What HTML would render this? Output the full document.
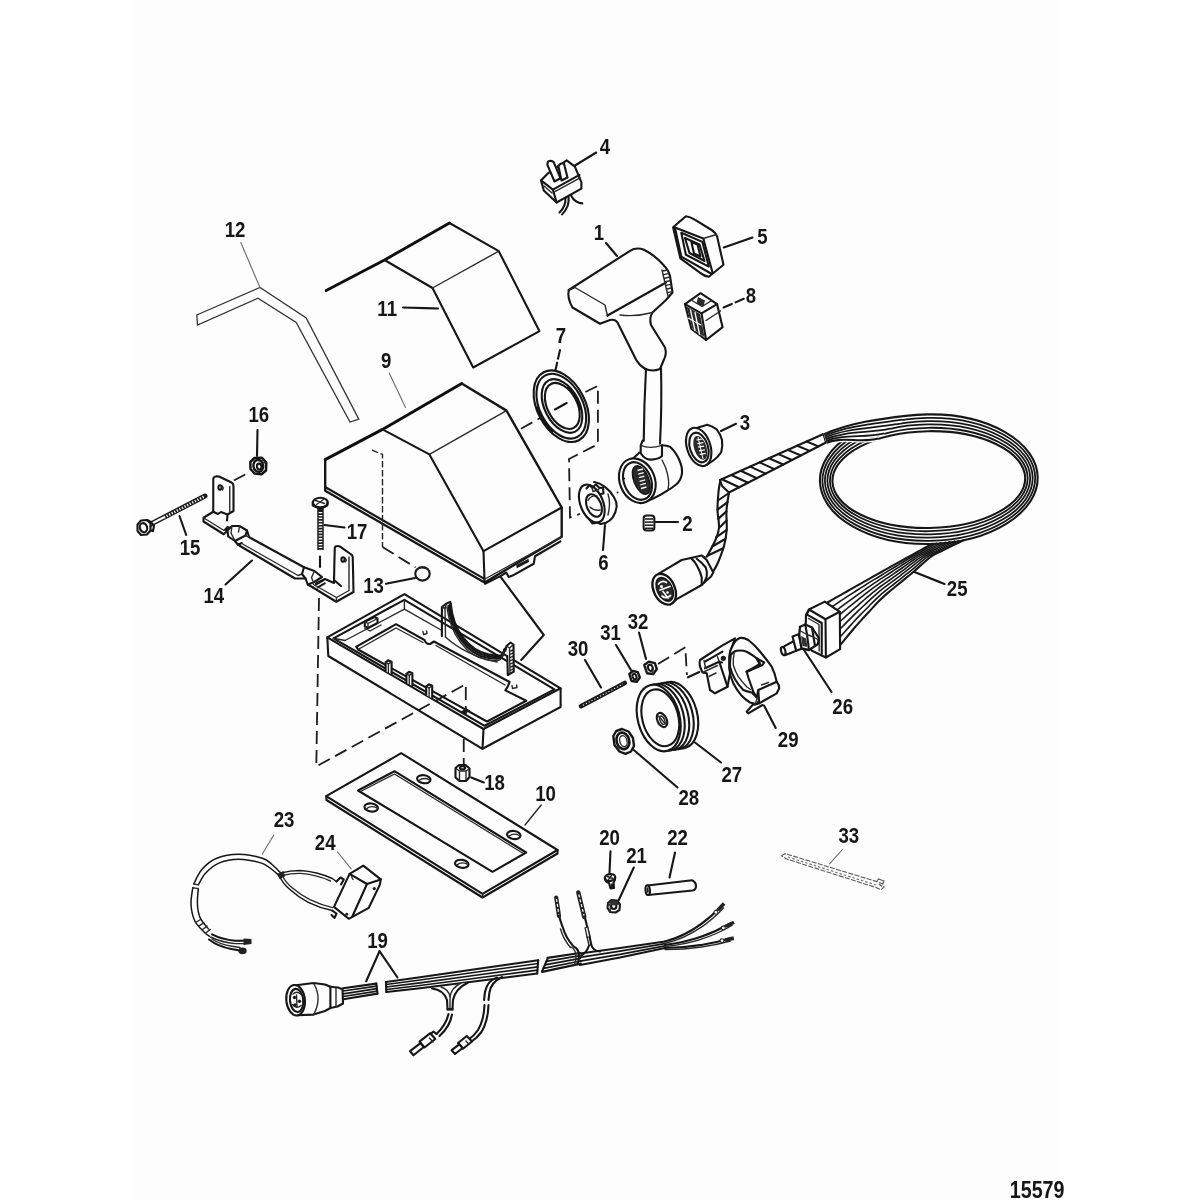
<!DOCTYPE html>
<html><head><meta charset="utf-8"><title>15579</title>
<style>
html,body{margin:0;padding:0;background:#fff;}
body{width:1200px;height:1200px;overflow:hidden;font-family:"Liberation Sans",sans-serif;}
svg{display:block}
.k{fill:none;stroke:#161616;stroke-width:2.1;stroke-linejoin:round;stroke-linecap:round}
.K{fill:none;stroke:#111;stroke-width:2.9;stroke-linejoin:round;stroke-linecap:round}
.w{fill:#fdfdfd;stroke:#161616;stroke-width:2.1;stroke-linejoin:round;stroke-linecap:round}
.t{fill:none;stroke:#2a2a2a;stroke-width:1.4;stroke-linejoin:round;stroke-linecap:round}
.tw{fill:#fdfdfd;stroke:#2a2a2a;stroke-width:1.4;stroke-linejoin:round;stroke-linecap:round}
.g{fill:none;stroke:#6a6a6a;stroke-width:1.1;stroke-linecap:round}
.d{fill:none;stroke:#1c1c1c;stroke-width:1.8;stroke-dasharray:13 6}
.d3{fill:none;stroke:#222;stroke-width:1.4;stroke-dasharray:6.5 2.5}
.f{fill:#1a1a1a;stroke:none}
.s12{fill:none;stroke:#333;stroke-width:1.3;stroke-linejoin:miter}
.lb{font-family:"Liberation Sans",sans-serif;font-weight:bold;fill:#141414}
</style></head>
<body>
<svg width="1200" height="1200" viewBox="0 0 1200 1200">
<rect x="0" y="0" width="1200" height="1200" fill="#ffffff"/>
<rect x="135" y="0" width="926" height="1200" fill="#fdfdfd"/>
<defs><filter id="sf" x="0" y="0" width="1200" height="1200" filterUnits="userSpaceOnUse"><feGaussianBlur stdDeviation="0.38"/></filter></defs>
<g filter="url(#sf)">
<!-- 10_top.py -->
<path class="s12" d="M196.8,315.0 L260.0,287.5 L306.2,318.0 L358.8,419.2 L350.0,422.0 L296.2,322.5 L258.0,298.2 L197.5,325.0 Z" />
<path class="K" d="M326.2,290.5 L384.5,260.0 L449.5,223.0" />
<path class="k" d="M449.5,223.0 L498.8,251.2 L539.5,331.2 L473.2,367.5 L432.5,288.0 L384.5,260.0" />
<line class="t" x1="432.5" y1="288.0" x2="498.8" y2="251.2"/>
<path class="K" d="M325.2,459.6 L382.5,429.4 L461.7,383.5" />
<path class="k" style="stroke-width:2.4" d="M461.7,383.5 L506.5,410.6 L561.7,507.5 L561.7,536.7 L484.6,582.5 L325.2,490.8 L325.2,459.6" />
<path class="k" d="M382.5,429.4 L429.4,454.4 L483.5,551.2 L484.6,582.5" />
<line class="t" x1="429.4" y1="454.4" x2="506.5" y2="410.6"/>
<line class="k" x1="483.5" y1="551.2" x2="561.7" y2="507.5"/>
<line class="k" x1="326.0" y1="487.5" x2="484.0" y2="578.6"/>
<path class="k" d="M500.6,576.9 L543.8,635.0 L521.2,660.0" />
<path class="d3" d="M372,450.2 L382.5,454.4 L382.5,547" />
<path class="d" d="M382.5,547 L415.5,567.5" />
<!-- 20_handle.py -->
<ellipse class="k" cx="561.3" cy="406.2" rx="24.0" ry="38.3" transform="rotate(-27.4 561.3 406.2)" />
<ellipse class="k" cx="561.3" cy="406.2" rx="21.5" ry="34.7" transform="rotate(-27.4 561.3 406.2)" />
<ellipse class="k" cx="562.0" cy="406.0" rx="17.3" ry="28.8" transform="rotate(-27.4 562.0 406.0)" />
<ellipse class="k" cx="562.3" cy="405.9" rx="14.9" ry="24.7" transform="rotate(-27.4 562.3 405.9)" />
<path class="k" style="stroke-width:2.8" d="M552.2,431.4 C551.6,430.8 549.7,428.9 548.5,427.6 C547.3,426.2 546.2,424.7 545.1,423.2 C544.0,421.6 543.0,420.0 542.1,418.3 C541.1,416.7 540.3,414.9 539.5,413.2 C538.7,411.5 537.8,408.8 537.5,407.9" />
<path class="k" style="stroke-width:2.4" d="M568.3,387.7 C568.8,388.2 570.2,389.6 571.0,390.6 C571.9,391.6 572.7,392.7 573.5,393.8 C574.3,395.0 575.1,396.1 575.7,397.4 C576.4,398.6 577.0,399.8 577.6,401.1 C578.2,402.4 578.7,403.7 579.1,405.0 C579.5,406.3 580.0,408.2 580.2,408.9" />
<line class="d" x1="521.0" y1="428.8" x2="541.0" y2="417.5"/>
<line class="k" x1="555.0" y1="409.5" x2="566.7" y2="403.0"/>
<path class="d" d="M585.4,392 L597.9,385.8 L597.9,444.2 L569,459 L570,517.5 L580,513.75" />
<path class="k" d="M568.75,290 L630,250.8 Q636.5,246.8 644,249.8 Q655,255.5 663,264.5 Q668.5,270 670,276 L672.5,292.5 L666,300 L652.5,312.5 Q649,318 651,325 L665,347.5 Q667,354 663.75,360 L660,369" />
<path class="k" d="M568.75,290 Q567,298 572.5,307.5 L600,323.75 L610,320 Q615,319 617.5,322.5 L636.25,360 Q640,366 645,368.75" />
<path class="k" d="M645,368.75 Q652,372 660,369" />
<path class="t" d="M575,287.5 L605,305 L607.5,316.25" />
<path class="t" d="M569,290 L575,287.5" />
<line class="k" x1="607.5" y1="315.5" x2="666.0" y2="282.5"/>
<path class="t" d="M620,315 Q636,317 652.5,312.5" />
<path class="t" d="M662,270 L668,296" />
<line class="t" x1="663.0" y1="271.0" x2="667.5" y2="270.0"/>
<line class="t" x1="663.8" y1="274.6" x2="668.2" y2="273.6"/>
<line class="t" x1="664.5" y1="278.2" x2="669.0" y2="277.2"/>
<line class="t" x1="665.2" y1="281.8" x2="669.8" y2="280.8"/>
<line class="t" x1="666.0" y1="285.4" x2="670.5" y2="284.4"/>
<line class="t" x1="666.8" y1="289.0" x2="671.2" y2="288.0"/>
<line class="t" x1="667.5" y1="292.6" x2="672.0" y2="291.6"/>
<path class="k" d="M646,369 Q644,405 643.75,441" />
<path class="k" d="M661,368.5 Q662,405 660,443.75" />
<path class="k" d="M640.7,445.3 L642.7,440.5 M640.7,445.3 L640.7,453.3 Q645,460 651.3,459.6 Q658,459.5 662,456 L662,445.3" />
<path class="t" d="M640.7,445.3 Q650,449.5 662,445.3" />
<path class="k" d="M632.7,458.7 L639.5,452.5" />
<path class="k" d="M662,445.3 Q667,445.5 670,446.7 Q676,452 679.3,460 Q682.5,467 682,473.3 Q681,480 676.7,484 Q672,488 667.3,490.7 Q661,495 652.7,498.7 L642.7,502.7" />
<path class="t" d="M662,460 Q666,467 667.3,473.3 Q669,480 668.7,484 L668,490" />
<ellipse class="w" cx="637.3" cy="480.7" rx="17.5" ry="23.0" transform="rotate(-22 637.3 480.7)" />
<ellipse class="k" cx="637.5" cy="481.0" rx="13.5" ry="19.5" transform="rotate(-22 637.5 481.0)" />
<ellipse cx="641.3" cy="480" rx="7.5" ry="15" transform="rotate(-22 641.3 480)" fill="#2a2a2a" stroke="#161616" stroke-width="1.5"/>
<line x1="637.5" y1="470.5" x2="643.0" y2="469.0" stroke="#fdfdfd" stroke-width="1.3"/>
<line x1="638.2" y1="474.1" x2="643.7" y2="472.6" stroke="#fdfdfd" stroke-width="1.3"/>
<line x1="638.9" y1="477.7" x2="644.4" y2="476.2" stroke="#fdfdfd" stroke-width="1.3"/>
<line x1="639.6" y1="481.3" x2="645.1" y2="479.8" stroke="#fdfdfd" stroke-width="1.3"/>
<line x1="640.3" y1="484.9" x2="645.8" y2="483.4" stroke="#fdfdfd" stroke-width="1.3"/>
<line x1="641.0" y1="488.5" x2="646.5" y2="487.0" stroke="#fdfdfd" stroke-width="1.3"/>
<circle class="f" cx="624" cy="478.5" r="1.1"/>
<path class="k" d="M696.7,428 L707.3,424.7 Q712.5,426 716.7,429.3 Q720.5,434 722,440 Q722.8,446 721.3,452 Q718.5,456.5 714,460 Q709,464 703.3,466" />
<ellipse class="w" cx="698.7" cy="446.9" rx="11.7" ry="19.8" transform="rotate(-18 698.7 446.9)" />
<ellipse class="k" cx="699.0" cy="447.5" rx="9.0" ry="15.3" transform="rotate(-18 699.0 447.5)" />
<ellipse cx="700.3" cy="447.8" rx="6.2" ry="12.3" transform="rotate(-18 700.3 447.8)" fill="#2c2c2c" stroke="none"/>
<line x1="696.5" y1="440.0" x2="702.5" y2="439.0" stroke="#fdfdfd" stroke-width="1.2"/>
<line x1="697.3" y1="443.6" x2="703.3" y2="442.6" stroke="#fdfdfd" stroke-width="1.2"/>
<line x1="698.1" y1="447.2" x2="704.1" y2="446.2" stroke="#fdfdfd" stroke-width="1.2"/>
<line x1="698.9" y1="450.8" x2="704.9" y2="449.8" stroke="#fdfdfd" stroke-width="1.2"/>
<line x1="699.7" y1="454.4" x2="705.7" y2="453.4" stroke="#fdfdfd" stroke-width="1.2"/>
<line x1="698" y1="437" x2="703" y2="459" stroke="#fdfdfd" stroke-width="1"/>
<rect x="643.6" y="515.6" width="10.8" height="15" rx="3" fill="#fdfdfd" stroke="#161616" stroke-width="2"/>
<line x1="645" y1="519.0" x2="653.5" y2="519.0" stroke="#222" stroke-width="1.6"/>
<line x1="645" y1="522.1" x2="653.5" y2="522.1" stroke="#222" stroke-width="1.6"/>
<line x1="645" y1="525.2" x2="653.5" y2="525.2" stroke="#222" stroke-width="1.6"/>
<line x1="645" y1="528.3" x2="653.5" y2="528.3" stroke="#222" stroke-width="1.6"/>
<path class="k" d="M594,482 Q600,483 604.7,486.7 Q610.5,491 614,497.3 Q617,502 616.7,506.7 Q616,512.5 612.7,517.3 Q610,521 606,522.7 L600.7,524" />
<ellipse class="w" cx="591.8" cy="503.5" rx="11.3" ry="20.0" transform="rotate(-22 591.8 503.5)" />
<ellipse class="k" cx="594.0" cy="505.5" rx="7.2" ry="11.8" transform="rotate(-22 594.0 505.5)" />
<path class="t" d="M588,500.5 Q591,495 597,496" />
<path class="t" d="M590,507 Q594,511 600,510" />
<path class="k" d="M586.5,488.5 L589.5,485 L592,487.5 L596,484.5 L599.5,488 L603,487.5 L603.5,493.5 L600.5,494" />
<path class="t" d="M592,487.5 L593,491.5 L598,490 L599.5,488" />
<path class="k" d="M589,519 L592.5,523.5 L597.5,522.5 L600.7,524" />
<path class="t" d="M608,494 Q611,503 608,515" />
<circle class="f" cx="617.5" cy="492.5" r="1"/>
<!-- 21_small.py -->
<path class="w" d="M541.0,180.4 L548.3,173.1 L566.7,160.3 L574.9,166.7 L581.4,182.3 L581.4,188.7 L556.6,202.5 L543.8,190.5 Z" />
<path class="k" d="M541,180.4 L552.9,189.6 L579.5,174.9" />
<path class="k" d="M552.9,189.6 L556.6,202.5" />
<path class="t" d="M553.5,192.3 L580.5,177.6" />
<path class="t" d="M544,186 L552,193" />
<path class="w" d="M547.4,164.8 Q547.3,161.5 549.3,161 Q552.5,160.5 553.8,162.3 L560.5,178.3 L554.5,181.5 Z" />
<path class="w" d="M558.4,166 Q560,163 563.9,163.2 L567.5,177.5 L561.5,180.5 Z" />
<path class="k" d="M568.5,197 Q570,206 562.1,214.4" />
<path class="k" d="M565.5,198 Q566,206 559.5,212.5" />
<path class="k" d="M571,195.5 Q575,203 582.3,203.4" />
<path class="w" d="M673.1,227.2 L685.9,216.2 Q690,216.5 695.1,219.9 L711.6,230 Q715.5,232.5 717.1,236.4 L723.5,264.8 L708.8,276.7 Q704,276 700.6,273.1 L680.4,258.4 Z" />
<path class="k" d="M674.9,227.5 L703.3,238.5 L712.5,272.5" />
<path class="t" d="M703.3,238.5 L716.5,234.5" />
<path class="k" d="M674.9,227.5 L681.3,256.6 L711,273.5" />
<path class="k" d="M681.3,232.7 L702.4,241.9 L708.8,266.6 L685.9,254.7 Z" />
<path class="k" d="M685.0,238.0 L699.5,244.5 L704.5,261.0 L689.5,253.0 Z" />
<path class="k" d="M691.4,242.0 L697.5,244.5 L700.5,256.5 L694.0,253.5 Z" />
<path class="w" d="M685.0,304.2 L700.6,293.2 L717.1,304.2 L722.6,327.2 L706.1,340.0 L691.4,329.0 Z" />
<path class="k" d="M685,304.2 L701.5,313.4 L717.1,304.2" />
<path class="k" d="M701.5,313.4 L706.1,340" />
<path d="M686.5,306.5 L700,314 L704.5,337 L692.3,328.2 Z" fill="#2a2a2a"/>
<path class="k" style="stroke:#fdfdfd;stroke-width:1.3" d="M690.5,310 L695,330.5" />
<path class="k" style="stroke:#fdfdfd;stroke-width:1.3" d="M695,312.5 L699.5,334" />
<path class="k" style="stroke:#fdfdfd;stroke-width:1.1" d="M688,318 L701,325" />
<path class="t" d="M692,300.5 L702,306.5 L711,301" />
<path d="M696.5,303.5 L698,297 L705,300.5 L703.5,306.5 Z" fill="#2a2a2a"/>
<path class="t" d="M706,320.5 L720.5,311" />
<!-- 30_harness25.py -->
<path class="k" d="M720.0,480.0 L823.5,434.0" />
<path class="k" d="M729.0,492.5 L826.0,442.5" />
<line class="k" x1="721.9" y1="479.2" x2="739.1" y2="487.3"/>
<line class="k" x1="731.3" y1="475.0" x2="748.0" y2="482.7"/>
<line class="k" x1="740.7" y1="470.8" x2="756.8" y2="478.2"/>
<line class="k" x1="750.1" y1="466.6" x2="765.6" y2="473.6"/>
<line class="k" x1="759.5" y1="462.4" x2="774.4" y2="469.1"/>
<line class="k" x1="768.9" y1="458.3" x2="783.2" y2="464.5"/>
<line class="k" x1="778.3" y1="454.1" x2="792.0" y2="460.0"/>
<line class="k" x1="787.7" y1="449.9" x2="800.9" y2="455.5"/>
<line class="k" x1="797.2" y1="445.7" x2="809.7" y2="450.9"/>
<line class="k" x1="806.6" y1="441.5" x2="818.5" y2="446.4"/>
<line class="k" x1="823.5" y1="434.0" x2="826.0" y2="442.5"/>
<path class="k" d="M720.0,482.0 C719.8,483.7 718.9,487.3 718.5,492.0 C718.1,496.7 717.4,504.0 717.5,510.0 C717.6,516.0 719.4,522.8 719.0,528.0 C718.6,533.2 717.0,536.2 715.0,541.0 C713.0,545.8 708.3,553.9 707.0,556.5" />
<path class="k" d="M729.0,492.5 C728.6,495.4 726.9,503.8 726.5,510.0 C726.1,516.2 727.1,524.0 726.7,530.0 C726.3,536.0 725.5,540.6 724.0,546.0 C722.5,551.4 719.8,558.2 718.0,562.5 C716.2,566.8 714.1,570.0 713.3,571.5" />
<line class="k" x1="718.0" y1="500.5" x2="728.9" y2="493.0"/>
<line class="k" x1="717.5" y1="509.7" x2="727.6" y2="502.2"/>
<line class="k" x1="718.2" y1="518.9" x2="726.5" y2="511.4"/>
<line class="k" x1="719.0" y1="528.1" x2="726.6" y2="520.6"/>
<line class="k" x1="716.1" y1="537.3" x2="726.7" y2="529.8"/>
<line class="k" x1="712.2" y1="546.5" x2="725.2" y2="539.0"/>
<line class="k" x1="707.4" y1="555.7" x2="723.2" y2="548.2"/>
<path class="k" d="M720,480 L722,486 L729,492.5" />
<ellipse cx="928.8" cy="479.2" rx="108.9" ry="64.8" transform="rotate(-1 928.8 479.2)" fill="none" stroke="#181818" stroke-width="2.1"/>
<ellipse cx="928.8" cy="479.3" rx="106.4" ry="61.5" transform="rotate(-1 928.8 479.2)" fill="none" stroke="#181818" stroke-width="1.8"/>
<ellipse cx="928.8" cy="479.4" rx="103.9" ry="58.2" transform="rotate(-1 928.8 479.2)" fill="none" stroke="#181818" stroke-width="1.8"/>
<ellipse cx="928.8" cy="479.4" rx="101.4" ry="55.0" transform="rotate(-1 928.8 479.2)" fill="none" stroke="#181818" stroke-width="1.8"/>
<ellipse cx="928.8" cy="479.5" rx="98.9" ry="51.7" transform="rotate(-1 928.8 479.2)" fill="none" stroke="#181818" stroke-width="1.8"/>
<ellipse cx="928.8" cy="479.6" rx="96.4" ry="48.4" transform="rotate(-1 928.8 479.2)" fill="none" stroke="#181818" stroke-width="2.1"/>
<path d="M824.0,434.2 C850.2,422.6 879.5,418.9 908.0,415.6" fill="none" stroke="#fdfdfd" stroke-width="4.5"/>
<path d="M824.5,435.9 C848.6,425.3 875.9,423.7 902.0,419.7" fill="none" stroke="#fdfdfd" stroke-width="4.5"/>
<path d="M825.0,437.6 C847.0,427.9 872.3,428.5 896.0,424.1" fill="none" stroke="#fdfdfd" stroke-width="4.5"/>
<path d="M825.4,439.4 C845.4,430.6 868.7,433.4 890.0,428.7" fill="none" stroke="#fdfdfd" stroke-width="4.5"/>
<path d="M825.9,441.1 C843.8,433.2 865.1,438.5 884.0,433.4" fill="none" stroke="#fdfdfd" stroke-width="4.5"/>
<path d="M826.4,442.8 C842.2,435.8 861.5,443.6 878.0,438.5" fill="none" stroke="#fdfdfd" stroke-width="4.5"/>
<path d="M824.0,434.2 C850.2,422.6 879.5,418.9 908.0,415.6" fill="none" stroke="#181818" stroke-width="2.1"/>
<path d="M824.5,435.9 C848.6,425.3 875.9,423.7 902.0,419.7" fill="none" stroke="#181818" stroke-width="1.7"/>
<path d="M825.0,437.6 C847.0,427.9 872.3,428.5 896.0,424.1" fill="none" stroke="#181818" stroke-width="1.7"/>
<path d="M825.4,439.4 C845.4,430.6 868.7,433.4 890.0,428.7" fill="none" stroke="#181818" stroke-width="1.7"/>
<path d="M825.9,441.1 C843.8,433.2 865.1,438.5 884.0,433.4" fill="none" stroke="#181818" stroke-width="1.7"/>
<path d="M826.4,442.8 C842.2,435.8 861.5,443.6 878.0,438.5" fill="none" stroke="#181818" stroke-width="2.1"/>
<path class="k" d="M932.2,543.8 C930.9,544.5 927.1,546.6 924.6,548.0 C922.0,549.4 919.5,550.8 916.9,552.2 C914.4,553.6 911.8,555.0 909.3,556.4 C906.8,557.8 904.2,559.2 901.7,560.6 C899.1,562.0 896.6,563.4 894.1,564.8 C891.5,566.3 889.0,567.7 886.5,569.1 C883.9,570.5 881.4,572.0 878.9,573.4 C876.3,574.8 873.8,576.2 871.3,577.7 C868.8,579.1 866.2,580.5 863.7,581.9 C861.2,583.3 858.6,584.8 856.1,586.2 C853.6,587.6 851.1,589.1 848.5,590.5 C846.0,591.9 843.5,593.4 841.0,594.8 C838.4,596.2 835.9,597.7 833.4,599.1 C830.9,600.5 827.1,602.7 825.8,603.4" />
<path class="k" style="stroke-width:1.6" d="M936.6,543.3 C935.3,544.0 931.3,546.2 928.6,547.6 C925.9,549.1 923.3,550.5 920.6,552.0 C917.9,553.4 915.2,554.8 912.5,556.3 C909.9,557.8 907.3,559.4 904.7,561.0 C902.1,562.5 899.6,564.1 897.0,565.7 C894.4,567.3 891.8,568.9 889.2,570.4 C886.6,572.0 884.0,573.6 881.4,575.2 C878.8,576.7 876.2,578.3 873.6,579.9 C871.0,581.4 868.4,583.0 865.9,584.7 C863.3,586.3 860.8,587.9 858.2,589.5 C855.7,591.2 853.1,592.8 850.6,594.4 C848.1,596.1 845.5,597.7 843.0,599.4 C840.5,601.0 838.0,602.7 835.5,604.3 C832.9,606.0 829.2,608.5 827.9,609.3" />
<path class="k" style="stroke-width:1.6" d="M941.1,542.8 C939.7,543.5 935.5,545.8 932.7,547.3 C929.8,548.8 927.0,550.2 924.2,551.7 C921.4,553.2 918.5,554.6 915.8,556.2 C913.1,557.8 910.4,559.6 907.8,561.3 C905.1,563.1 902.5,564.9 899.9,566.6 C897.2,568.3 894.6,570.1 891.9,571.8 C889.3,573.5 886.6,575.2 883.9,576.9 C881.2,578.6 878.6,580.3 875.9,582.1 C873.3,583.8 870.6,585.6 868.1,587.4 C865.5,589.2 862.9,591.0 860.4,592.9 C857.8,594.7 855.2,596.5 852.7,598.4 C850.1,600.2 847.6,602.1 845.1,603.9 C842.6,605.8 840.1,607.7 837.5,609.6 C835.0,611.4 831.3,614.3 830.0,615.2" />
<path class="k" style="stroke-width:1.6" d="M945.5,542.3 C944.1,543.0 939.6,545.3 936.7,546.9 C933.8,548.4 930.8,550.0 927.9,551.5 C924.9,553.1 921.9,554.4 919.1,556.1 C916.2,557.8 913.6,559.8 910.9,561.7 C908.1,563.6 905.5,565.6 902.8,567.5 C900.1,569.4 897.4,571.2 894.6,573.1 C891.9,575.0 889.2,576.8 886.4,578.7 C883.7,580.6 880.9,582.4 878.2,584.3 C875.5,586.2 872.9,588.1 870.2,590.1 C867.6,592.1 865.1,594.2 862.5,596.2 C859.9,598.2 857.3,600.3 854.8,602.3 C852.2,604.4 849.7,606.4 847.1,608.5 C844.6,610.6 842.1,612.7 839.6,614.8 C837.1,616.9 833.4,620.1 832.1,621.1" />
<path class="k" style="stroke-width:1.6" d="M950.0,541.7 C948.4,542.5 943.8,544.9 940.7,546.5 C937.7,548.1 934.6,549.7 931.5,551.3 C928.5,552.9 925.2,554.3 922.3,556.1 C919.4,557.9 916.7,560.0 913.9,562.1 C911.2,564.1 908.5,566.3 905.7,568.3 C903.0,570.4 900.2,572.4 897.4,574.4 C894.6,576.5 891.8,578.5 889.0,580.5 C886.1,582.5 883.3,584.4 880.5,586.5 C877.8,588.6 875.1,590.7 872.4,592.8 C869.8,595.0 867.2,597.3 864.6,599.5 C862.0,601.8 859.4,604.0 856.9,606.3 C854.3,608.5 851.7,610.8 849.2,613.1 C846.7,615.4 844.2,617.7 841.7,620.0 C839.2,622.4 835.5,625.8 834.2,627.0" />
<path class="k" style="stroke-width:1.6" d="M954.4,541.2 C952.8,542.0 948.0,544.5 944.8,546.1 C941.6,547.8 938.4,549.4 935.2,551.1 C932.0,552.7 928.6,554.1 925.6,556.0 C922.5,557.9 919.8,560.2 917.0,562.4 C914.2,564.6 911.5,567.0 908.6,569.2 C905.8,571.4 903.0,573.6 900.1,575.8 C897.2,577.9 894.3,580.1 891.5,582.2 C888.6,584.4 885.7,586.5 882.8,588.7 C880.0,590.9 877.3,593.2 874.6,595.6 C871.9,597.9 869.4,600.4 866.8,602.9 C864.2,605.3 861.5,607.7 858.9,610.2 C856.4,612.7 853.8,615.1 851.3,617.7 C848.7,620.2 846.3,622.7 843.8,625.3 C841.3,627.8 837.5,631.6 836.3,632.9" />
<path class="k" style="stroke-width:1.6" d="M958.9,540.7 C957.2,541.6 952.2,544.1 948.8,545.8 C945.5,547.5 942.2,549.2 938.8,550.8 C935.5,552.5 931.9,553.9 928.8,555.9 C925.7,557.9 922.9,560.4 920.1,562.8 C917.2,565.2 914.4,567.7 911.6,570.1 C908.7,572.5 905.7,574.8 902.8,577.1 C899.9,579.4 896.9,581.7 894.0,584.0 C891.0,586.3 888.0,588.5 885.2,590.9 C882.3,593.3 879.5,595.7 876.8,598.3 C874.1,600.8 871.5,603.6 868.9,606.2 C866.3,608.9 863.6,611.5 861.0,614.1 C858.4,616.8 855.9,619.5 853.3,622.2 C850.8,625.0 848.4,627.8 845.9,630.5 C843.4,633.3 839.6,637.4 838.4,638.8" />
<path class="k" d="M963.3,540.2 C961.6,541.1 956.4,543.7 952.9,545.4 C949.4,547.1 945.9,548.9 942.5,550.6 C939.0,552.3 935.3,553.7 932.1,555.8 C928.8,557.9 926.0,560.7 923.1,563.2 C920.2,565.7 917.4,568.4 914.5,571.0 C911.5,573.5 908.5,576.0 905.5,578.4 C902.5,580.9 899.5,583.3 896.5,585.8 C893.5,588.2 890.4,590.6 887.5,593.1 C884.5,595.7 881.7,598.3 879.0,601.0 C876.2,603.8 873.7,606.7 871.0,609.6 C868.4,612.4 865.7,615.2 863.1,618.1 C860.5,621.0 857.9,623.9 855.4,626.8 C852.9,629.7 850.4,632.8 847.9,635.7 C845.5,638.7 841.7,643.2 840.5,644.7" />
<path class="w" d="M809.0,609.5 L824.8,601.6 L839.8,611.8 L840.1,649.2 L825.9,657.5 L812.0,650.8 L805.2,642.5 L806.0,615.5 Z" />
<path class="k" d="M806,615.5 L809,609.5 L825.5,619.25 L839.75,611.75" />
<path class="k" d="M825.5,619.25 L825.9,657.5" />
<path class="k" d="M807.5,614.8 L821.75,623 L821.75,653.75" />
<path class="t" d="M808.5,618.5 L819,624.5 L819.2,651" />
<path class="w" d="M785,655.25 L796.25,650.75 L794,641 L784.5,646.2" />
<ellipse class="w" cx="783.2" cy="651.0" rx="2.1" ry="4.2" transform="rotate(-15 783.2 651.0)" />
<path class="w" d="M792.5,636.5 L798.5,634.25 L802.25,648.5 L796.25,650.75 Z" />
<path class="w" style="stroke-width:2.3" d="M800,626.75 L805.25,624.5 L812,627.5 L818.75,638 L818,644 L809,650 L801.5,648.5 L799.25,635 Z" />
<path class="k" d="M805.25,624.5 L807,634.5 L809,650 M812,627.5 L813.5,637 L815,646" />
<path class="t" d="M800.5,631 L807,634.5 L813.5,637 L818.5,640" />
<path d="M801,636 L806,638.5 L807.5,647 L802.5,646 Z" fill="#333"/>
<path class="w" d="M659.2,573.3 L681.7,560 L690.8,557.9 L701.7,555.4 L706.7,560 L713.3,572.5 L710.8,576.7 L704.2,582.5 L701.7,585 L676.7,599.2 L670,604.6" />
<path class="k" d="M690.8,557.9 Q695.5,562 697.5,566.7 Q700.5,572 701.7,577.5 L701.7,585" />
<path class="k" d="M696.7,558.75 Q702,562.5 705.8,567.5 Q707.5,572 706.7,576.7 L704.2,582.5" />
<path class="t" d="M701.7,555.4 L706,557.5" />
<ellipse cx="664.2" cy="589.2" rx="10.6" ry="16.3" transform="rotate(-25 664.2 589.2)" fill="#fdfdfd" stroke="#161616" stroke-width="2.3"/>
<ellipse cx="664.7" cy="589.4" rx="7.6" ry="12.6" transform="rotate(-25 664.7 589.4)" fill="#2a2a2a" stroke="#161616" stroke-width="1.5"/>
<path d="M658.5,584 Q662,579.5 666.5,582.5 M660,590 L670,586.5 M662,596 Q666,599.5 670.5,595.5 M663,591.5 L668,598" fill="none" stroke="#fdfdfd" stroke-width="1.7" stroke-linecap="round"/>
<circle cx="661.5" cy="586.5" r="1.5" fill="#fdfdfd"/><circle cx="667.5" cy="592.5" r="1.3" fill="#fdfdfd"/>
<!-- 31_mid.py -->
<line x1="581" y1="706.2" x2="624.8" y2="683" stroke="#1a1a1a" stroke-width="4.6" stroke-linecap="round"/>
<line x1="583" y1="705.2" x2="623" y2="684" stroke="#fdfdfd" stroke-width="1.1" stroke-dasharray="1.2 2"/>
<path class="w" style="stroke-width:2.4" d="M629.3,674 L632.8,671 L637.8,672.2 L639.8,677.5 L636.8,681.8 L631.5,681 Z" />
<ellipse class="k" cx="634.5" cy="676.6" rx="1.9" ry="2.8" transform="rotate(-20 634.5 676.6)" />
<path class="w" style="stroke-width:2.4" d="M644.3,665 L648.8,661.6 L654.8,663.2 L656.8,669 L653.3,674 L647,673.2 Z" />
<ellipse class="k" cx="650.4" cy="667.8" rx="2.3" ry="3.2" transform="rotate(-20 650.4 667.8)" />
<path class="t" d="M647,673.2 L645.3,668.5 M653.3,674 L652,669" />
<path class="d" d="M658,664 L685.3,647.3 L686.9,675" />
<path class="k" d="M688,677.3 L699.3,672" />
<ellipse class="w" cx="676.2" cy="715.2" rx="20.9" ry="34.0" transform="rotate(-15 676.2 715.2)" />
<ellipse class="w" cx="671.7" cy="715.9" rx="20.9" ry="34.0" transform="rotate(-15 671.7 715.9)" />
<ellipse class="w" cx="667.2" cy="716.6" rx="20.9" ry="34.0" transform="rotate(-15 667.2 716.6)" />
<ellipse class="w" cx="662.7" cy="717.3" rx="20.9" ry="34.0" transform="rotate(-15 662.7 717.3)" />
<ellipse class="w" cx="658.7" cy="718.0" rx="20.9" ry="34.0" transform="rotate(-15 658.7 718.0)" />
<ellipse class="k" cx="660.3" cy="717.8" rx="18.0" ry="29.0" transform="rotate(-15 660.3 717.8)" />
<ellipse class="k" cx="662.0" cy="720.0" rx="4.6" ry="7.6" transform="rotate(-25 662.0 720.0)" />
<ellipse class="t" cx="662.3" cy="720.2" rx="2.2" ry="4.4" transform="rotate(-25 662.3 720.2)" />
<path class="t" d="M658.5,716 L665.5,724" />
<path class="w" style="stroke-width:2.4" d="M613.3,736 L616.3,731 L622,729 L628.5,731.5 L633,738 L634,746 L631,751.5 L625.5,753.8 L619.5,751.5 L614.5,745 Z" />
<ellipse class="k" style="stroke-width:2.6" cx="622.9" cy="740.9" rx="6.3" ry="8.4" transform="rotate(-15 622.9 740.9)" />
<ellipse class="t" cx="623.4" cy="741.2" rx="3.6" ry="5.6" transform="rotate(-15 623.4 741.2)" />
<path class="w" d="M735,638.3 L721.7,645.8 L700,660 Q698.3,664.5 702.5,672.5 L706.7,673.3 L710,690 L715,693.3 L727.5,686.7 L731,668 L730,652 Z" />
<path class="k" d="M705,661.7 L722.5,651.7" />
<path class="k" d="M705,668.3 L719.2,661.7 L722,662.5" />
<path class="t" d="M702.5,672.5 L717.5,665.5" />
<path class="t" d="M704,660.5 L705.5,668 M717.5,656.7 L719.2,661.7" />
<path class="t" d="M709,676.5 L716,673" />
<path class="k" d="M719.2,661.7 L727.5,686.7" />
<path class="w" d="M756.7,704.2 L750,702.5 Q745,699.5 741.7,695.8 Q736,689 733.3,683.3 Q730,676 729.2,668.3 L729.2,656.7 Q729.5,651 733,645 Q735.5,639.5 740,638 Q744,637.5 748.3,640 Q755,645 760.8,652.5 Q767,660 771.7,666.7 Q775,673 776.7,681.7 L770,690 L760,699 Z" />
<path class="w" d="M756.7,697.5 L751.7,692.5 Q747,691.5 743.3,690 Q738,684.5 735,679.2 Q731.5,673 730,666.7 Q729.8,660 730.8,655 Q733,651.5 736.7,650.8 Q742,650 746.7,651.7 Q752,654.5 756.7,658.3 L764.2,662.5 L762.5,665 L746.7,671.7 L748.5,678 L753.3,691.7 L756.7,697.5 Z" />
<path class="t" d="M734.2,653.3 Q732.8,659 733.3,665 Q735,671 738.3,676.7 Q742,682 746.7,686.7 L750.5,689.5" />
<path class="k" style="stroke-width:2.6" d="M756.7,658.3 L760,664.2 L750,670 L746.7,671.7" />
<circle class="f" cx="723.3" cy="658.3" r="2.6"/>
<path class="w" d="M758.3,690 L776.7,681.7 Q779.5,685 779.2,688.3 L776.7,693.3 L765,700 L759.2,703.3 Z" />
<path class="t" d="M761.5,685 L768.5,682.5" />
<path class="k" d="M756.7,697.5 L758.3,690" />
<path class="k" d="M759.2,703.3 L752.5,705 L746.7,711.7 L748.3,713.3 L762.5,705" />
<path class="t" d="M757.5,697 L755,705" />
<!-- 40_left.py -->
<path class="w" style="stroke-width:2.5" d="M250.3,462 L254.5,458 L262,457.8 L266.3,462.5 L266,470.5 L261.5,474.3 L254.5,473.5 L250.5,469 Z" />
<ellipse class="k" style="stroke-width:2.4" cx="258.3" cy="465.9" rx="4.9" ry="6.0" transform="rotate(-10 258.3 465.9)" />
<ellipse class="k" cx="259.2" cy="466.6" rx="2.2" ry="3.0" transform="rotate(-10 259.2 466.6)" />
<path class="t" d="M262,457.8 L263,461 M266.3,462.5 L263.5,463" />
<line class="d" x1="233.8" y1="480.5" x2="248.0" y2="473.0"/>
<path class="k" d="M213.25,511.75 L213.25,479 Q213.5,476.5 216.5,476.2 L219,476.5 L231.5,482.5 Q233.5,483.5 233.5,486 L233.5,511 L227.5,514.5" />
<path class="t" d="M229.75,486.5 L229.75,512" />
<ellipse class="k" cx="220.0" cy="487.5" rx="1.6" ry="2.2" transform="rotate(0 220.0 487.5)" />
<path class="t" d="M222,486 Q224,487.5 222.5,490" />
<path class="k" d="M213.25,511.75 L203.5,517.75 L203.5,521.5 L223.75,534.25 L227.5,530.5" />
<path class="t" d="M203.5,517.75 L224,530.5 L227.5,526.5" />
<path class="k" d="M213.25,511.75 L218,514 L221,512 L227.5,514.5 L227,520.5" />
<path class="k" d="M227.5,530.5 L232,526 L239.5,526 L247,530.5 L245.5,535.5 L235,541 L228.25,536.5 L227.5,530.5" />
<path class="t" d="M232,526 L231,533 L235,541 M239.5,526 L238.5,532" />
<path class="f" d="M224,529.5 L229,526 L230.5,528 L226,531.5 Z"/>
<path class="k" d="M247,530.5 L249.25,537.25 L304,567.25" />
<path class="k" d="M238,544.75 L295,578.5 L305.5,578.5" />
<path class="k" d="M235,541 L238,544.75 L241.75,543" />
<path class="t" d="M241.75,543.5 L298,575.5 L302,574" />
<path class="t" d="M245.5,535.5 L249.25,537.25" />
<path class="k" d="M304,567.25 L302,574 L305.5,578.5 L307.75,584.5 L313,587.5" />
<path class="k" d="M304,567.25 L314.5,571 L322,577 L313.5,582.5 L307.75,584.5" />
<path class="t" d="M314.5,571 L311.5,577.5 L313.5,582.5" />
<path class="f" d="M315,584 L323.5,579 L324.5,580.8 L316,585.8 Z"/>
<path class="f" d="M316.5,587 L325,582 L326,583.8 L317.5,588.8 Z"/>
<path class="k" d="M313,587.5 L336.25,601.75 L353.5,592 L352.75,557 Q352.5,555 350.5,554 L340.5,546.8 Q337.5,545.5 335.5,546.5 L334.75,548 L334,580 L341,586" />
<path class="k" d="M316,583.5 L325,579 L334,583 L334,580" />
<path class="t" d="M336.25,601.75 L336.5,597.5 L349,590.5 L349,557" />
<path class="t" d="M313.5,584.5 L336.5,597.5" />
<ellipse class="k" cx="343.0" cy="559.5" rx="1.6" ry="2.2" transform="rotate(0 343.0 559.5)" />
<path class="t" d="M345,558 Q347,559.5 345.5,562" />
<line x1="150" y1="524.5" x2="205" y2="496" stroke="#1a1a1a" stroke-width="5" stroke-linecap="round"/>
<line x1="164" y1="517.5" x2="204.5" y2="496.3" stroke="#fdfdfd" stroke-width="2.6" stroke-dasharray="1.2 1.7"/>
<line x1="150" y1="524.5" x2="164" y2="517.3" stroke="#fdfdfd" stroke-width="2.2"/>
<path class="w" d="M137.5,524.5 L141,520.5 L147,520 L150.5,523.5 L150.5,530.5 L147,534.5 L141,535 L137.5,531 Z" />
<ellipse class="k" cx="143.5" cy="527.7" rx="3.6" ry="4.6" transform="rotate(-15 143.5 527.7)" />
<path class="k" d="M147,520 L151,522 L154,526 L153,531 L150.5,530.5" />
<line x1="320.5" y1="508" x2="320.5" y2="550" stroke="#1a1a1a" stroke-width="6.5" stroke-linecap="butt"/>
<line x1="320.5" y1="512" x2="320.5" y2="550" stroke="#fdfdfd" stroke-width="3.6" stroke-dasharray="1.3 1.6"/>
<ellipse class="w" cx="320.4" cy="502.5" rx="7.5" ry="4.8" transform="rotate(0 320.4 502.5)" />
<path class="k" d="M312.7,502 L312.7,505.5 Q320,511 327.3,505.5 L327.3,502" />
<path class="t" d="M315.5,500.5 L324.5,503.5 M323.5,499.5 L316.5,504.5" />
<!-- 41_tray.py -->
<path class="t" d="M484,579.5 L561.7,536.9" />
<path class="k" d="M485,583.75 L501.25,575.6 L506.25,572.5 L508.75,576.9 L512.5,575.6 L533.75,563.75 L535,556.25 L560.5,541.3" />
<path class="f" d="M516.25,565 L528.5,558.8 L529,562 L516.8,568.3 Z"/>
<ellipse class="w" cx="422.5" cy="573.8" rx="7.2" ry="6.8" transform="rotate(0 422.5 573.8)" />
<path class="t" d="M416,570 Q421,566 428.5,569.5" />
<path class="w" d="M327.3,637.3 L404.4,594.2 L560.6,688.3 L560.6,707.0 L482.5,748.8 L328.3,656.0 Z" />
<path class="k" d="M327.3,637.3 L483.5,729 L560.6,688.3" />
<path class="k" d="M483.5,729 L482.5,748.75" />
<path class="k" d="M333.5,638.3 L404.4,599.8 L554.4,689.4 L484.6,725.8 Z" />
<path class="t" d="M404.4,599.8 L404.4,609.2 L345,640.5" />
<path class="t" d="M404.4,609.2 L441.9,630.5" />
<path class="t" d="M333.5,638.3 L345,640.5" />
<path class="k" d="M356.5,646.7 L396,624.2 L424.5,640 Q426,644.5 430,644 L434,641.5 L509.6,682 L508,686 L505.4,690.4 L526.25,700.8 L487,721.5" />
<path class="t" d="M358,649.5 L396,628 L423,642.5" />
<path class="k" d="M356.5,646.7 L358,649.5 L486,721" />
<path class="t" d="M436,645.5 L505,685" />
<path class="w" d="M364.8,621.7 L374.5,617 L377.5,618.5 L377.5,623 L368,628 L364.8,626.2 Z" />
<path class="t" d="M364.8,621.7 L368,623.5 L377.5,618.5 M368,623.5 L368,628" />
<path class="t" d="M364.5,628 L370,631 L381,625" />
<path class="t" d="M423,631.5 L423.5,634.5 L427,633.5 L426.5,631" />
<path class="t" d="M512,685.5 L512.5,688.5 L517,687.5 L516.5,685" />
<path class="w" d="M385.6,671.3 L385.6,662.3 L388.2,660.3 L391.6,661.8 L391.6,674.3" />
<path class="t" d="M388.4,663.8 L388.4,672.8" />
<path class="t" d="M385.6,662.3 L388.4,663.8 L391.6,661.8" />
<path class="w" d="M406.4,682.8 L406.4,673.8 L409.1,671.8 L412.4,673.3 L412.4,685.8" />
<path class="t" d="M409.3,675.3 L409.3,684.3" />
<path class="t" d="M406.4,673.8 L409.3,675.3 L412.4,673.3" />
<path class="w" d="M426.2,695.3 L426.2,686.3 L428.9,684.3 L432.2,685.8 L432.2,698.3" />
<path class="t" d="M429.1,687.8 L429.1,696.8" />
<path class="t" d="M426.2,686.3 L429.1,687.8 L432.2,685.8" />
<path class="k" d="M441.9,636.25 L441.9,607 L446.5,603.5 L450.2,601.9 L450.8,604" />
<path class="t" d="M441.9,607 L445,608.5 L446.5,603.5" />
<path class="t" d="M445,608.5 L445.5,637" />
<path class="k" d="M450.8,604.0 C453.0,630.0 469.0,651.0 489.0,654.5 S501.5,652.0 505.0,648.5" />
<path class="k" d="M449.6,605.0 C452.2,631.6 468.2,652.6 488.2,656.1 S501.3,653.0 504.8,649.3" />
<path class="k" d="M448.3,606.0 C451.5,633.3 467.5,654.3 487.5,657.8 S501.0,654.0 504.7,650.1" />
<path class="t" d="M446.9,607.1 C450.6,635.2 466.6,656.2 486.6,659.8 S500.8,655.1 504.5,651.1" />
<path class="w" d="M505.4,650.8 L506.5,646 L510.6,642.5 L513.5,644.5 L513.75,671.7 L507.8,675 L507.3,656" />
<path class="t" d="M506.5,646 L509.5,648 L513.5,644.5 M509.5,648 L510,673.5" />
<line class="t" x1="510.5" y1="651.0" x2="513.0" y2="650.0"/>
<line class="t" x1="510.5" y1="654.2" x2="513.0" y2="653.2"/>
<line class="t" x1="510.5" y1="657.4" x2="513.0" y2="656.4"/>
<line class="t" x1="510.5" y1="660.6" x2="513.0" y2="659.6"/>
<line class="t" x1="510.5" y1="663.8" x2="513.0" y2="662.8"/>
<line class="t" x1="510.5" y1="667.0" x2="513.0" y2="666.0"/>
<line class="t" x1="510.5" y1="670.2" x2="513.0" y2="669.2"/>
<path class="t" d="M445.5,637 Q465,655 497,662" />
<path class="f" d="M459.5,712 L466.5,708.5 L470.5,710.8 L463.5,714.5 Z"/>
<!-- 50_bottom.py -->
<path class="w" d="M455.5,768 L459,765 L465.5,765 L469.5,768.5 L469.5,777 L466,781 L459.5,781 L455.5,777.5 Z" />
<path class="t" d="M455.5,768 L459.5,771 L466,771 L469.5,768.5 M459.5,771 L459.5,781 M466,771 L466,781" />
<ellipse class="k" cx="462.5" cy="767.8" rx="2.6" ry="1.6" transform="rotate(0 462.5 767.8)" />
<path class="w" d="M326.2,796.2 L401.2,753.2 L557.5,850.0 L482.5,893.8 Z" />
<path class="k" d="M326.25,796.25 L326.5,800 L482.5,897.5 L557.5,853.5 L557.5,850" />
<path class="t" d="M482.5,893.75 L482.5,897.5" />
<path class="k" d="M358.0,790.5 L394.5,771.2 L526.2,852.5 L492.5,871.8 Z" />
<path class="t" d="M361.5,791 L394.5,774 L522.5,853" />
<ellipse class="k" cx="423.8" cy="779.2" rx="6.8" ry="4.0" transform="rotate(8 423.8 779.2)" />
<path class="t" d="M418.8,780.5 Q423.8,776.8 429.2,779.8" />
<ellipse class="k" cx="371.2" cy="807.5" rx="6.8" ry="4.0" transform="rotate(8 371.2 807.5)" />
<path class="t" d="M366.2,808.7 Q371.2,805.0 376.8,808.0" />
<ellipse class="k" cx="513.8" cy="835.0" rx="6.8" ry="4.0" transform="rotate(8 513.8 835.0)" />
<path class="t" d="M508.8,836.2 Q513.8,832.5 519.2,835.5" />
<ellipse class="k" cx="461.8" cy="863.8" rx="6.8" ry="4.0" transform="rotate(8 461.8 863.8)" />
<path class="t" d="M456.8,865.0 Q461.8,861.2 467.2,864.2" />
<path class="k" style="stroke-width:1.5" d="M280.8,873.0 C279.3,871.6 275.1,867.0 272.0,864.5 C268.9,862.0 268.1,860.0 262.5,858.3 C256.9,856.6 246.3,854.3 238.7,854.3 C231.1,854.3 222.8,855.8 216.7,858.3 C210.6,860.8 205.8,865.0 202.0,869.3 C198.2,873.6 195.1,881.5 193.8,884.0" />
<path class="k" style="stroke-width:1.5" d="M279.5,875.8 C277.9,874.5 273.1,870.1 270.0,868.0 C266.9,865.9 265.9,864.4 260.7,862.9 C255.5,861.4 245.6,859.2 238.7,859.2 C231.8,859.2 224.9,860.6 219.4,862.9 C213.9,865.2 209.2,869.3 205.7,873.0 C202.2,876.7 199.5,882.9 198.3,884.9" />
<line class="t" x1="193.8" y1="884.0" x2="198.3" y2="884.9"/>
<path class="k" style="stroke-width:1.5" d="M192.8,887.7 C192.5,890.5 190.7,898.7 191.0,904.2 C191.3,909.7 192.6,916.1 194.7,920.7 C196.8,925.3 201.4,929.1 203.8,931.7 C206.2,934.3 208.4,935.5 209.3,936.2" />
<path class="k" style="stroke-width:1.5" d="M198.3,888.6 C198.2,891.2 197.1,899.3 197.4,904.2 C197.7,909.1 198.4,913.8 200.2,917.9 C202.0,922.0 207.0,927.1 208.4,928.9" />
<line class="t" x1="192.8" y1="887.7" x2="198.3" y2="888.6"/>
<line class="t" x1="195.5" y1="922.5" x2="200.5" y2="919.5"/>
<line class="t" x1="198.8" y1="926.1" x2="203.8" y2="922.8"/>
<line class="t" x1="202.1" y1="929.7" x2="207.1" y2="926.1"/>
<line class="t" x1="205.4" y1="933.3" x2="210.4" y2="929.4"/>
<path class="k" d="M212,934.4 Q222,939.5 235,940.8 L246,940.8" />
<path class="t" d="M210.5,937 Q222,942.5 235,943.6 L245,943.6" />
<path class="k" d="M209,939.5 Q218,946.5 231.3,949 L240,950.5" />
<path class="t" d="M212,939 Q220,944.5 232,946.3 L240,947.5" />
<path d="M243.5,938.5 L251.5,939 L251.5,944 L243.5,945 Z" fill="#222"/>
<ellipse cx="242.5" cy="950.8" rx="4.2" ry="3.4" fill="#222"/>
<path class="k" style="stroke-width:1.5" d="M280.8,873 Q290,870.5 300,870.5 Q317,871.5 332.2,878.5 L336.5,881.5" />
<path class="t" d="M283,875.3 Q291,873.3 300,873.4 Q316,874.4 330.5,881" />
<path class="k" style="stroke-width:1.5" d="M279.5,876 Q283,884 290,889.5 Q298,897 308.3,902.3 Q320,908 332.2,910.6" />
<path class="t" d="M282.5,876 Q286,883 292.5,888 Q300,894.5 310,899.7 Q321,905 332.5,907.6" />
<path d="M277,874 L283.5,871 L285,876.5 L279.5,879 Z" fill="#222"/>
<path class="w" d="M349.6,873.9 L363.3,865.7 L380.8,879.4 L379.8,884.9 L368.8,907.8 L348.7,918.8 L334.0,906.9 Z" />
<path class="k" d="M349.6,873.9 L367,884 L380.75,879.4 M367,884 L352.3,916.5" />
<path class="k" d="M336.5,881.5 L340.5,877.5 L343.8,879.5 L341,884.5 M332.2,910.6 L336.5,913.5 L334.5,918 L331.5,915" />
<circle class="f" cx="374.3" cy="888.6" r="1.6"/><circle class="f" cx="346.8" cy="914.25" r="1.4"/>
<path class="t" d="M351.5,876.5 L353,879.5" />
<!-- 51_harness19.py -->
<path class="k" d="M296,985.3 L313.5,983 L325,984.5 L330.4,986.8 L330.4,1008 L325,1011 L313.5,1014.6 L297,1015.2" />
<path class="t" d="M313.5,983 Q318.5,991 318,1000 Q317.5,1008 313.5,1014.6" />
<path class="k" d="M330.4,986.8 L338,987.5 L342.5,989.2 L343,1003.5 L337.5,1006.5 L330.4,1008" />
<path class="t" d="M336,987.5 L336,1006.5" />
<ellipse class="w" cx="295.6" cy="1000.2" rx="9.3" ry="15.3" transform="rotate(-6 295.6 1000.2)" />
<ellipse class="k" cx="296.6" cy="1000.4" rx="6.6" ry="11.6" transform="rotate(-6 296.6 1000.4)" />
<path class="t" d="M293,994 Q296.5,990.5 300.5,994 M292.5,1004.5 Q296.5,1009.5 301,1005.5 M296.5,995 L297,1006.5" />
<circle class="f" cx="294.5" cy="997.5" r="1.7"/><circle class="f" cx="299.5" cy="1001.2" r="1.7"/><circle class="f" cx="295" cy="1004.8" r="1.6"/>
<path class="k" d="M343.0,988.3 L376.3,983.6" />
<path class="k" style="stroke-width:1.7" d="M343.1,991.0 L376.6,986.1" />
<path class="k" style="stroke-width:1.7" d="M343.1,993.8 L376.9,988.6" />
<path class="k" style="stroke-width:1.7" d="M343.2,996.5 L377.2,991.1" />
<path class="k" d="M343.3,999.3 L377.5,993.6" />
<line class="k" x1="376.3" y1="983.6" x2="377.5" y2="993.6"/>
<path class="k" d="M386.0,982.0 L420.0,977.2 L470.0,970.0 L538.2,960.2" />
<path class="k" style="stroke-width:1.7" d="M386.1,984.5 L420.0,980.0 L470.0,973.0 L538.0,963.5" />
<path class="k" style="stroke-width:1.7" d="M386.1,987.0 L420.0,982.8 L470.0,976.0 L537.7,966.9" />
<path class="k" style="stroke-width:1.7" d="M386.2,989.5 L420.0,985.5 L470.0,979.0 L537.5,970.2" />
<path class="k" d="M386.3,992.0 L420.0,988.3 L470.0,982.0 L537.2,973.5" />
<line class="k" x1="386.0" y1="982.0" x2="386.3" y2="992.0"/>
<line class="k" x1="538.2" y1="960.2" x2="537.2" y2="973.5"/>
<path d="M432,989 Q444,990 447,1000 L447.5,1009 L452.5,1009 L453,1000 Q455,989 468,983 L460,983.5 Q452,986.5 450,993 Q447.5,987.5 440,987.5 Z" fill="#fdfdfd" stroke="none"/>
<path class="k" d="M432,988.5 Q444,990 447,1000 L447.5,1009" />
<path class="k" d="M468,982.5 Q455,989 453,1000 L452.5,1009" />
<path class="t" d="M441,987 Q449,989.5 450,997 Q451,988 461,983" />
<path class="t" d="M450,997 L450,1008.5" />
<rect class="f" x="446.5" y="1008" width="7" height="2.6"/>
<path class="k" d="M448.5,1014 Q446,1025 436.5,1034 M452,1014.5 Q450,1026.5 439.5,1036" />
<path class="k" d="M436.5,1034 L433.5,1031.5 L428.5,1036 L431,1039" />
<path class="w" d="M430.3,1033.2 L435.3,1039.0 L424.5,1047.5 L419.5,1041.7 Z" />
<path class="w" d="M420.5,1043.2 L423.8,1047.0 L413.5,1055.3 L410.0,1051.2 Z" />
<path class="t" d="M429.5,1038 L433,1042" />
<path class="k" d="M497,977.5 Q487,981 485,992 L484,1000" />
<path class="k" d="M502,977 Q491.5,982 489.5,992 L488.5,1000" />
<path class="k" d="M484.5,1005 Q484,1020 478,1030 Q474,1036 468,1040" />
<path class="k" d="M488.5,1005 Q488,1021 481.5,1032 Q477,1038 471,1042" />
<path class="w" d="M466.8,1036.0 L472.0,1041.5 L463.0,1048.7 L458.0,1043.0 Z" />
<path class="w" d="M459.3,1044.3 L462.6,1048.0 L455.0,1054.0 L451.6,1050.2 Z" />
<path class="t" d="M466,1041 L469,1044.5" />
<path class="k" d="M547.5,957.9 L580.0,953.0" />
<path class="k" style="stroke-width:1.7" d="M546.2,961.4 L580.2,955.6" />
<path class="k" style="stroke-width:1.7" d="M544.9,964.9 L580.4,958.3" />
<path class="k" style="stroke-width:1.7" d="M543.6,968.4 L580.6,961.0" />
<path class="k" d="M542.2,971.9 L580.8,963.6" />
<line class="k" x1="547.5" y1="959.0" x2="542.0" y2="971.5"/>
<path class="k" d="M580.0,953.5 L620.0,948.0 L665.0,941.5" />
<path class="k" style="stroke-width:1.7" d="M580.0,957.3 L620.0,951.2 L665.0,943.7" />
<path class="k" style="stroke-width:1.7" d="M580.0,961.2 L620.0,954.3 L665.0,945.8" />
<path class="k" d="M580.0,965.0 L620.0,957.5 L665.0,948.0" />
<path class="k" d="M665,941.5 Q695,934 722,905.5" />
<path class="t" d="M665,943.5 Q697,936 723.5,908" />
<path class="k" d="M665,945 Q700,941 731,923" />
<path class="t" d="M665,946.5 Q702,943 732,925.5" />
<path class="k" d="M665,948 Q700,947.5 730,938.5" />
<path class="t" d="M665,949.5 Q700,949.5 730.5,941" />
<g transform="translate(718,910) rotate(-47)"><rect x="0" y="-1.8" width="9" height="3.6" fill="#222"/><circle cx="-3" cy="0" r="1.9" fill="#fdfdfd" stroke="#222" stroke-width="1"/></g>
<g transform="translate(726,926.5) rotate(-28)"><rect x="0" y="-1.8" width="9" height="3.6" fill="#222"/><circle cx="-3" cy="0" r="1.9" fill="#fdfdfd" stroke="#222" stroke-width="1"/></g>
<g transform="translate(725,940) rotate(-12)"><rect x="0" y="-1.8" width="9" height="3.6" fill="#222"/><circle cx="-3" cy="0" r="1.9" fill="#fdfdfd" stroke="#222" stroke-width="1"/></g>
<path class="k" d="M572.9,945.6 Q566,938 563,928 Q560,920 558.9,915 L556.5,899" />
<path class="t" d="M570.5,947.5 Q563.5,939.5 560.5,929" />
<path class="k" d="M573.5,946.5 Q579,949 579,956 Q579,960 577.5,964" />
<path class="t" d="M571,947 Q576,950 576,956.5 Q576,961 574.5,964.5" />
<path d="M556.2,897.5 L559,916" fill="none" stroke="#222" stroke-width="4.2" stroke-linecap="round"/>
<path d="M556.5,899 L558.8,914.5" fill="none" stroke="#fdfdfd" stroke-width="1.2" stroke-dasharray="3 2"/>
<path class="k" d="M591.25,944.75 Q593,951 600,951.5 M589,945.5 Q587,952 581.5,955.5" />
<path class="k" d="M591.25,944.75 L589.5,936 L584.25,915 L579,893" />
<path class="t" d="M589,945.5 L587,936.5" />
<path d="M578.3,892.5 L584.3,917" fill="none" stroke="#222" stroke-width="4.4" stroke-linecap="round"/>
<path d="M578.8,894.5 L584,915.5" fill="none" stroke="#fdfdfd" stroke-width="1.2" stroke-dasharray="3 2"/>
<path d="M586.3,927 L588.6,937.5" fill="none" stroke="#222" stroke-width="4" />
<path d="M586.5,928 L588.4,936.5" fill="none" stroke="#fdfdfd" stroke-width="1.4" />
<!-- 52_smallparts.py -->
<ellipse class="w" cx="610.0" cy="877.5" rx="5.3" ry="3.4" transform="rotate(-10 610.0 877.5)" />
<path class="k" d="M605,878.5 Q605.5,882 609,883 L610.5,888.5 L614,888 L613.5,882.5 Q615.5,880.5 615,877" />
<path class="t" d="M607.5,876.5 L613,878.5 M611.5,875.5 L608.5,879.5" />
<rect class="f" x="610.8" y="883.5" width="3" height="5"/>
<path class="w" d="M608,903 L611.5,900 L617,900.5 L620,904.5 L619.5,910 L615.5,912.5 L610,912 L607.5,908 Z" />
<ellipse class="k" cx="613.8" cy="906.0" rx="2.6" ry="3.0" transform="rotate(0 613.8 906.0)" />
<path d="M608.5,903 L611.5,900.3 L617,900.8 L619.5,904.5 L614,905.5 Z" fill="#333"/>
<path class="t" d="M608,903 L610.5,906 L610,912 M617,900.5 L617.5,903.5" />
<path class="k" d="M647.5,885.5 L692,880.2 Q696,882 696,886 Q696,890 692.5,890.5 L648,895" />
<ellipse class="w" cx="647.7" cy="890.2" rx="2.2" ry="4.8" transform="rotate(-5 647.7 890.2)" />
<ellipse class="f" cx="647.7" cy="890.2" rx="1.0" ry="3.0" transform="rotate(-5 647.7 890.2)" />
<path d="M781.5,855.8 L785,853.6 L876.5,881.5 L882.8,883.8 L884,887 L881,889.8 L876,887.5 L786,858.8 Z" fill="#fdfdfd" stroke="#5a5a5a" stroke-width="1.1" stroke-dasharray="5 1.4"/>
<path d="M788,857 L876,885" fill="none" stroke="#777" stroke-width="1.2" stroke-dasharray="2.5 2"/>
<path d="M876.5,881.5 L878.5,879 L884,881 L882.8,883.8 M879,884 L882,886.5" fill="none" stroke="#555" stroke-width="1.1"/>
<!-- 60_dash.py -->
<path class="k" d="M320,556.5 L320,567" />
<path class="d" d="M319,598 L316.3,766.5 L465.8,684.2 L465.8,714" />
<path class="d" d="M463.75,739 L463.75,764" />
<!-- 99_labels.py -->
<text class="lb" font-size="23" transform="translate(599.0,240.0) scale(.81,1)" text-anchor="middle">1</text>
<text class="lb" font-size="23" transform="translate(687.5,531.0) scale(.81,1)" text-anchor="middle">2</text>
<text class="lb" font-size="23" transform="translate(745.0,429.5) scale(.81,1)" text-anchor="middle">3</text>
<text class="lb" font-size="23" transform="translate(605.0,153.8) scale(.81,1)" text-anchor="middle">4</text>
<text class="lb" font-size="23" transform="translate(762.5,244.0) scale(.81,1)" text-anchor="middle">5</text>
<text class="lb" font-size="23" transform="translate(603.4,570.0) scale(.81,1)" text-anchor="middle">6</text>
<text class="lb" font-size="23" transform="translate(561.0,342.5) scale(.81,1)" text-anchor="middle">7</text>
<text class="lb" font-size="23" transform="translate(750.8,302.5) scale(.81,1)" text-anchor="middle">8</text>
<text class="lb" font-size="23" transform="translate(386.2,367.5) scale(.81,1)" text-anchor="middle">9</text>
<text class="lb" font-size="23" transform="translate(545.6,800.5) scale(.81,1)" text-anchor="middle">10</text>
<text class="lb" font-size="23" transform="translate(387.2,315.5) scale(.81,1)" text-anchor="middle">11</text>
<text class="lb" font-size="23" transform="translate(235.0,237.0) scale(.81,1)" text-anchor="middle">12</text>
<text class="lb" font-size="23" transform="translate(373.5,593.0) scale(.81,1)" text-anchor="middle">13</text>
<text class="lb" font-size="23" transform="translate(213.8,603.0) scale(.81,1)" text-anchor="middle">14</text>
<text class="lb" font-size="23" transform="translate(190.1,555.0) scale(.81,1)" text-anchor="middle">15</text>
<text class="lb" font-size="23" transform="translate(258.8,422.0) scale(.81,1)" text-anchor="middle">16</text>
<text class="lb" font-size="23" transform="translate(357.0,538.8) scale(.81,1)" text-anchor="middle">17</text>
<text class="lb" font-size="23" transform="translate(494.6,790.0) scale(.81,1)" text-anchor="middle">18</text>
<text class="lb" font-size="23" transform="translate(377.5,948.2) scale(.81,1)" text-anchor="middle">19</text>
<text class="lb" font-size="23" transform="translate(609.5,845.0) scale(.81,1)" text-anchor="middle">20</text>
<text class="lb" font-size="23" transform="translate(636.5,862.5) scale(.81,1)" text-anchor="middle">21</text>
<text class="lb" font-size="23" transform="translate(677.5,845.0) scale(.81,1)" text-anchor="middle">22</text>
<text class="lb" font-size="23" transform="translate(284.1,826.5) scale(.81,1)" text-anchor="middle">23</text>
<text class="lb" font-size="23" transform="translate(325.2,850.0) scale(.81,1)" text-anchor="middle">24</text>
<text class="lb" font-size="23" transform="translate(957.2,596.0) scale(.81,1)" text-anchor="middle">25</text>
<text class="lb" font-size="23" transform="translate(842.7,714.4) scale(.81,1)" text-anchor="middle">26</text>
<text class="lb" font-size="23" transform="translate(731.8,782.0) scale(.81,1)" text-anchor="middle">27</text>
<text class="lb" font-size="23" transform="translate(688.8,804.5) scale(.81,1)" text-anchor="middle">28</text>
<text class="lb" font-size="23" transform="translate(788.2,746.5) scale(.81,1)" text-anchor="middle">29</text>
<text class="lb" font-size="23" transform="translate(578.1,656.0) scale(.81,1)" text-anchor="middle">30</text>
<text class="lb" font-size="23" transform="translate(610.5,640.0) scale(.81,1)" text-anchor="middle">31</text>
<text class="lb" font-size="23" transform="translate(638.0,629.0) scale(.81,1)" text-anchor="middle">32</text>
<text class="lb" font-size="23" transform="translate(848.8,843.2) scale(.81,1)" text-anchor="middle">33</text>
<text class="lb" font-size="24.3" transform="translate(1037.1,1197.5) scale(.81,1)" text-anchor="middle">15579</text>
<line class="k" x1="606.0" y1="243.0" x2="617.0" y2="256.0"/>
<line class="k" x1="678.0" y1="522.0" x2="655.5" y2="522.0"/>
<line class="k" x1="736.0" y1="423.8" x2="721.0" y2="431.0"/>
<line class="k" x1="596.2" y1="152.5" x2="575.0" y2="165.5"/>
<line class="k" x1="752.5" y1="237.5" x2="723.8" y2="247.5"/>
<line class="k" x1="605.0" y1="525.0" x2="603.0" y2="550.0"/>
<line class="k" stroke-dasharray="9 4" x1="560" y1="350" x2="555.5" y2="370"/>
<line class="k" stroke-dasharray="9 4" x1="743.75" y1="298.75" x2="722.5" y2="308"/>
<line class="g" x1="389.2" y1="373.0" x2="405.5" y2="407.5"/>
<line class="t" x1="541.2" y1="805.0" x2="525.0" y2="825.0"/>
<line class="k" x1="403.0" y1="307.5" x2="438.0" y2="308.5"/>
<line class="g" x1="240.8" y1="242.5" x2="260.0" y2="287.5"/>
<line class="k" x1="386.0" y1="583.8" x2="415.0" y2="578.0"/>
<line class="k" x1="225.5" y1="584.5" x2="252.0" y2="560.5"/>
<line class="k" x1="186.2" y1="535.0" x2="179.5" y2="516.0"/>
<line class="k" x1="257.5" y1="430.0" x2="257.0" y2="456.0"/>
<line class="k" x1="344.5" y1="527.5" x2="324.5" y2="525.0"/>
<line class="k" x1="483.8" y1="782.5" x2="471.2" y2="777.5"/>
<line class="k" x1="379.5" y1="951.2" x2="366.2" y2="981.2"/>
<line class="k" x1="379.5" y1="951.2" x2="397.5" y2="977.5"/>
<line class="k" x1="610.5" y1="851.2" x2="609.5" y2="872.5"/>
<line class="k" x1="633.8" y1="867.5" x2="618.8" y2="900.0"/>
<line class="k" x1="675.0" y1="852.5" x2="669.5" y2="877.5"/>
<line class="g" x1="273.8" y1="835.0" x2="262.5" y2="853.8"/>
<line class="g" x1="337.5" y1="852.0" x2="351.2" y2="868.8"/>
<line class="k" x1="944.5" y1="584.0" x2="914.5" y2="572.0"/>
<line class="k" x1="831.5" y1="692.0" x2="804.0" y2="650.0"/>
<line class="k" x1="721.0" y1="762.5" x2="695.0" y2="742.5"/>
<line class="k" x1="677.5" y1="787.5" x2="633.8" y2="750.0"/>
<line class="k" x1="775.7" y1="728.0" x2="764.0" y2="705.5"/>
<line class="k" x1="585.0" y1="660.0" x2="601.0" y2="687.5"/>
<line class="k" x1="616.0" y1="645.0" x2="631.0" y2="670.0"/>
<line class="k" x1="639.0" y1="632.5" x2="646.0" y2="659.0"/>
<line class="g" x1="842.5" y1="849.5" x2="829.5" y2="863.8"/>
</g>
</svg>
</body></html>
